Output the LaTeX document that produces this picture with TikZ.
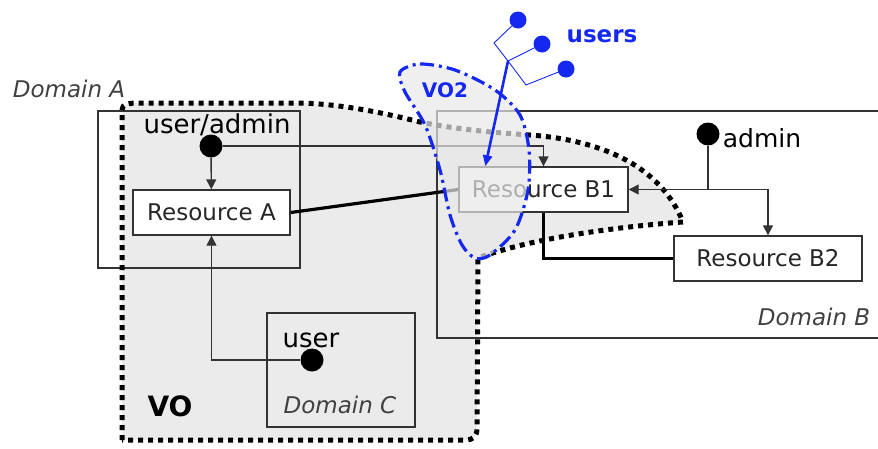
\documentclass[tikz,border=0pt]{standalone}
\usepackage{fontspec}
\setmainfont{DejaVu Sans}
\usetikzlibrary{arrows.meta,calc}
\definecolor{vofill}{HTML}{EBEBEB}
\definecolor{linegray}{HTML}{333333}
\definecolor{ublue}{RGB}{20,40,240}
\begin{document}
\begin{tikzpicture}[x=1pt,y=-1pt,
 box/.style={draw=linegray, line width=1.4pt, fill=white, inner sep=0pt, minimum height=45pt, font=\fontsize{23}{25}\selectfont, text=black!85},
 dom/.style={draw=linegray, line width=1.4pt, inner sep=0pt},
 dot/.style={circle, fill=black, minimum size=23pt, inner sep=0pt},
 udot/.style={circle, fill=ublue, minimum size=17pt, inner sep=0pt},
 arr/.style={draw=linegray, line width=1.4pt, -{Triangle[length=10pt,width=10pt]}},
 thickln/.style={draw=black, line width=3.2pt},
 vodots/.style={draw=black, line width=5pt, dash pattern=on 5pt off 5pt},
 dlabel/.style={font=\fontsize{23}{25}\selectfont\itshape, text=black!75, anchor=base, inner sep=0pt},
 lbl/.style={anchor=base, text=black, inner sep=0pt},
 vtwo/.style={draw=ublue, line width=3.2pt, dash pattern=on 14pt off 5pt on 3pt off 5pt}
]
\useasboundingbox (0,0) rectangle (878,448);

% VO region fill
\fill[vofill] (122,440) -- (122,110) .. controls (122,104) and (128,103) .. (140,103) -- (300,103) .. controls (340,104) and (380,112) .. (420,122) .. controls (460,130) and (500,133) .. (530,135) .. controls (600,140) and (660,165) .. (683,222) .. controls (640,225) and (540,235) .. (478,258) -- (477,428) .. controls (477,436) and (474,440) .. (465,440) -- cycle;

% domains
\node[dom, minimum width=202pt, minimum height=157pt] (domA) at (199,189.5) {};
\draw[dom] (878,111) -- (437,111) -- (437,338) -- (878,338);
\node[dom, minimum width=148pt, minimum height=114pt] (domC) at (341,370) {};

% VO border
\draw[vodots] (122,440) -- (122,110) .. controls (122,104) and (128,103) .. (140,103) -- (300,103) .. controls (340,104) and (380,112) .. (420,122) .. controls (460,130) and (500,133) .. (530,135) .. controls (600,140) and (660,165) .. (683,222) .. controls (640,225) and (540,235) .. (478,258) -- (477,428) .. controls (477,436) and (474,440) .. (465,440) -- cycle;

% labels
\node[dlabel] (lA) at (69,97) {Domain A};
\node[dlabel] (lB) at (814,325) {Domain B};
\node[dlabel] (lC) at (340,413) {Domain C};
\node[lbl, font=\fontsize{28}{30}\selectfont\bfseries] (lVO) at (170,416) {VO};
\node[lbl, font=\fontsize{26}{28}\selectfont] (lua) at (217,133) {user/admin};
\node[lbl, font=\fontsize{25}{27}\selectfont] (ladm) at (762,147) {admin};
\node[lbl, font=\fontsize{26}{28}\selectfont] (lusr) at (311,347) {user};

% resources
\node[box, minimum width=157pt] (resA) at (211.5,212.5) {Resource A};
\node[box, minimum width=169pt] (resB1) at (543.5,189.5) {Resource B1};
\node[box, minimum width=188pt] (resB2) at (768,258.5) {Resource B2};

% actors
\node[dot] (ua) at (211,146) {};
\node[dot] (adm) at (708,134) {};
\node[dot] (usr) at (312,360) {};
\coordinate (split) at (708,189.5);

% connectors
\draw[arr] (ua) -- (resA);
\draw[arr] (ua.east) -| (resB1.north);
\draw[arr] (usr.west) -| (resA.south);
\draw[thickln] (resA.east) -- (resB1.west);
\draw[thickln] (resB1.south) |- (resB2.west);
\draw[draw=linegray, line width=1.4pt] (adm) -- (split);
\draw[arr] (split) -- (resB1.east);
\draw[arr] (split) -| (resB2.north);

% VO2 overlay
\fill[gray!18, fill opacity=0.7] plot[smooth cycle] coordinates {(400,72) (420,64) (455,70) (495,90) (520,115) (529,150) (528,190) (515,230) (490,255) (475,258) (462,245) (450,215) (440,170) (425,125) (405,92)};
\draw[vtwo] plot[smooth cycle] coordinates {(400,72) (420,64) (455,70) (495,90) (520,115) (529,150) (528,190) (515,230) (490,255) (475,258) (462,245) (450,215) (440,170) (425,125) (405,92)};
\node[lbl, text=ublue, font=\fontsize{20}{22}\selectfont\bfseries] (lvo2) at (445,97) {VO2};

% users
\node[udot] (u1) at (518,20) {};
\node[udot] (u2) at (542,44) {};
\node[udot] (u3) at (566,69) {};
\coordinate (j) at (508,61);
\coordinate (k1) at (494,43);
\coordinate (k3) at (526,85);
\draw[ublue, line width=0.9pt] (u1) -- (k1) -- (j) -- (u2);
\draw[ublue, line width=0.9pt] (j) -- (k3) -- (u3);
\draw[ublue, line width=2.6pt, -{Triangle[length=11pt,width=9pt]}] (j) -- ([xshift=27pt]resB1.north west);
\node[lbl, text=ublue, font=\fontsize{23}{25}\selectfont\bfseries] (lusers) at (602,42) {users};
\end{tikzpicture}
\end{document}
